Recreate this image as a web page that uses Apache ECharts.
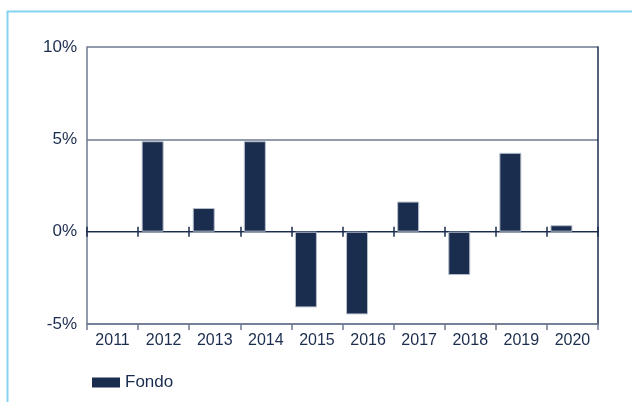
<!DOCTYPE html>
<html>
<head>
<meta charset="utf-8">
<script src="https://cdn.jsdelivr.net/npm/echarts@6/dist/echarts.min.js"></script>
<style>
	html, body { margin: 0; padding: 0; background: #fff; }
	#chart { width: 632px; height: 402px; }
</style>
</head>
<body>
<div id="chart"></div>
<script>
var years = ['2011', '2012', '2013', '2014', '2015', '2016', '2017', '2018', '2019', '2020'];
var fondo = [null, 4.9, 1.28, 4.9, -4.1, -4.48, 1.63, -2.35, 4.27, 0.35];
var benchmark = [null, null, null, null, null, null, null, null, null, null];

var navy = '#1b2d4e';
var grey = '#6e7a90';
var font = 'Liberation Sans';

var myChart = echarts.init(document.getElementById('chart'));

var option = {
	animation: false,
	grid: {
		left: 87,
		right: 34,
		top: 47,
		bottom: 78
	},
	legend: {
		data: ['Fondo'],
		left: 87,
		top: 369,
		icon: 'rect',
		itemWidth: 28,
		itemHeight: 10,
		itemStyle: { borderWidth: 0 },
		textStyle: { fontFamily: font, fontSize: 17, color: navy }
	},
	graphic: [
		{
			type: 'polyline',
			shape: { points: [[7.5, 402], [7.5, 11.5], [632, 11.5]] },
			style: { stroke: '#86d3ef', lineWidth: 2, fill: null }
		}
	],
	xAxis: [
		{
			// bottom border with year labels
			type: 'category',
			data: years,
			position: 'bottom',
			axisLine: { onZero: false, lineStyle: { color: grey, width: 1.5 } },
			axisTick: { show: true, length: 6, lineStyle: { color: grey, width: 1.5 } },
			axisLabel: { interval: 0, fontFamily: font, fontSize: 16, color: navy, margin: 9 }
		},
		{
			// zero line, ticks going down
			type: 'category',
			data: years,
			position: 'bottom',
			axisLine: { onZero: true, onZeroAxisIndex: 0, lineStyle: { color: navy, width: 1 } },
			axisTick: { show: true, length: 5, lineStyle: { color: navy, width: 1.5 } },
			axisLabel: { show: false }
		},
		{
			// zero line, ticks going up
			type: 'category',
			data: years,
			position: 'top',
			axisLine: { onZero: true, onZeroAxisIndex: 0, lineStyle: { color: navy, width: 1 } },
			axisTick: { show: true, length: 5, lineStyle: { color: navy, width: 1.5 } },
			axisLabel: { show: false }
		}
	],
	yAxis: [
		{
			type: 'value',
			min: -5,
			max: 10,
			interval: 5,
			axisLine: { show: true, lineStyle: { color: grey, width: 1.5 } },
			axisTick: { show: false },
			splitLine: { lineStyle: { color: grey, width: 1.5 } },
			axisLabel: {
				formatter: '{value}%',
				fontFamily: font,
				fontSize: 17,
				color: navy,
				margin: 10,
				padding: [0, 0, 6, 0]
			}
		},
		{
			type: 'value',
			min: -5,
			max: 10,
			interval: 5,
			position: 'right',
			axisLine: { show: true, lineStyle: { color: navy, width: 1.5 } },
			axisTick: { show: false },
			splitLine: { show: false },
			axisLabel: { show: false }
		}
	],
	series: [
		{
			name: 'Fondo',
			type: 'bar',
			xAxisIndex: 0,
			yAxisIndex: 0,
			barWidth: 22,
			barGap: '0%',
			itemStyle: { color: navy, borderColor: '#b7bfcc', borderWidth: 1 },
			data: fondo
		},
		{
			name: 'Benchmark',
			type: 'bar',
			xAxisIndex: 0,
			yAxisIndex: 0,
			barWidth: 22,
			barGap: '0%',
			data: benchmark
		}
	]
};
myChart.setOption(option);
</script>
</body>
</html>
